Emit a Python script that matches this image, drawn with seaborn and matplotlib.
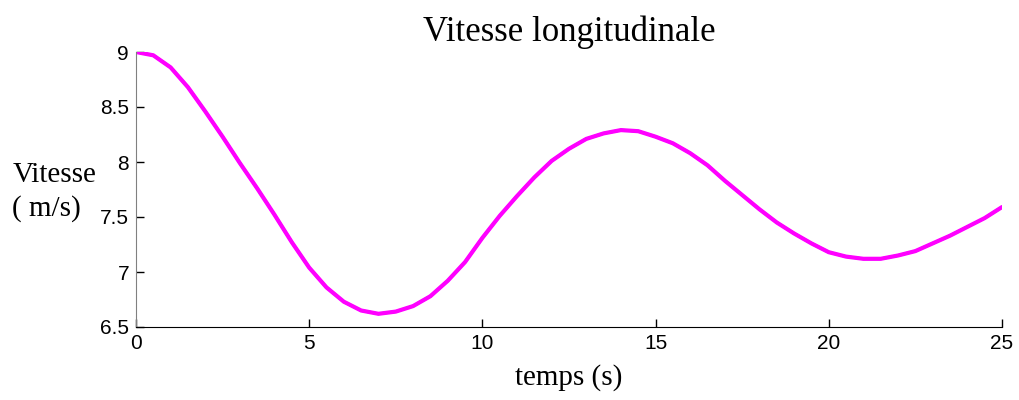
import numpy as np
import pandas as pd
from matplotlib import pyplot as plt
import seaborn as sns

# temps (s) et vitesse (m/s)
temps = [0, 0.5, 1, 1.5, 2, 2.5, 3, 3.5, 4, 4.5, 5, 5.5, 6, 6.5, 7, 7.5, 8, 8.5, 9, 9.5,
         10, 10.5, 11, 11.5, 12, 12.5, 13, 13.5, 14, 14.5, 15, 15.5, 16, 16.5, 17, 17.5,
         18, 18.5, 19, 19.5, 20, 20.5, 21, 21.5, 22, 22.5, 23, 23.5, 24, 24.5, 25]
vitesse = [9.00, 8.97, 8.86, 8.68, 8.46, 8.23, 7.99, 7.76, 7.52, 7.27, 7.04, 6.86, 6.73,
           6.65, 6.62, 6.64, 6.69, 6.78, 6.92, 7.09, 7.31, 7.51, 7.69, 7.86, 8.01, 8.12,
           8.21, 8.26, 8.29, 8.28, 8.23, 8.17, 8.08, 7.97, 7.83, 7.70, 7.57, 7.45, 7.35,
           7.26, 7.18, 7.14, 7.12, 7.12, 7.15, 7.19, 7.26, 7.33, 7.41, 7.49, 7.59]

x_ticks = [0, 5, 10, 15, 20, 25]
y_ticks = [6.5, 7, 7.5, 8, 8.5, 9]
y_tick_labels = ["6.5", "7", "7.5", "8", "8.5", "9"]

df = pd.DataFrame({"temps": temps, "vitesse": vitesse})

sns.set_style("white")
plt.rcParams["text.color"] = "black"
plt.rcParams["axes.labelcolor"] = "black"
serif = ["Liberation Serif", "DejaVu Serif"]
sans = ["Liberation Sans", "DejaVu Sans"]

fig = plt.figure(figsize=(10.2, 4), dpi=100)
ax = fig.add_axes([0.1333, 0.1825, 0.849, 0.6875])

sns.lineplot(data=df, x="temps", y="vitesse", ax=ax, color="blue", linewidth=2)
sns.lineplot(data=df, x="temps", y="vitesse", ax=ax, color="#ff00ff", linewidth=3)

ax.set_xlim(0, 25)
ax.set_ylim(6.5, 9)
ax.set_xticks(x_ticks)
ax.set_yticks(y_ticks)
ax.set_xticklabels([str(t) for t in x_ticks], fontfamily=sans, fontsize=15)
ax.set_yticklabels(y_tick_labels, fontfamily=sans, fontsize=15)
ax.tick_params(direction="in", length=6, width=1, colors="black", pad=5)
ax.tick_params(axis="x", bottom=True)
ax.tick_params(axis="y", left=True)

ax.spines["top"].set_visible(False)
ax.spines["right"].set_visible(False)
ax.spines["left"].set_color("#808080")
ax.spines["bottom"].set_color("black")

ax.set_title("Vitesse longitudinale", fontfamily=serif, fontsize=25, pad=8, color="black")
ax.set_xlabel("temps (s)", fontfamily=serif, fontsize=21, labelpad=8, color="black")
ax.set_ylabel("")
fig.text(0.012, 0.52, "Vitesse\n( m/s)", fontfamily=serif, fontsize=21,
         ha="left", va="center", linespacing=1.3, color="black")

fig.savefig("out.png", dpi=100)
